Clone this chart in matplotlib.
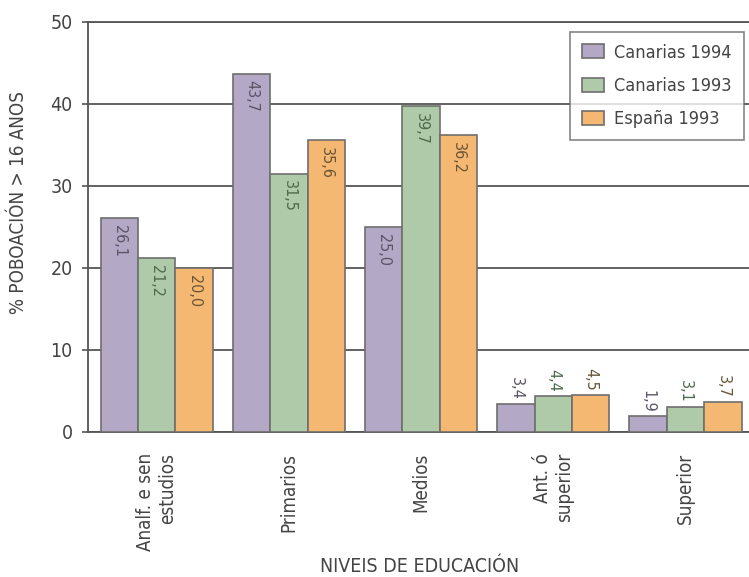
import numpy as np
from matplotlib import pyplot as plt

######## Datos

niveis = ["Analf. e sen\nestudios", "Primarios", "Medios", "Ant. ó\nsuperior", "Superior"]
canarias_1994 = [26.1, 43.7, 25.0, 3.4, 1.9]
canarias_1993 = [21.2, 31.5, 39.7, 4.4, 3.1]
espana_1993 = [20.0, 35.6, 36.2, 4.5, 3.7]
series_nomes = ["Canarias 1994", "Canarias 1993", "España 1993"]
cores = ["#b3a9c6", "#aecaa8", "#f4b872"]
cores_texto = ["#5b5366", "#4c6a4c", "#6a5536"]

######## Fonte estreita

plt.rcParams['font.family'] = ["DejaVu Sans"]
plt.rcParams['font.stretch'] = "condensed"
cinza = "#444444"

######## Grafica

fig = plt.figure(figsize=(7.49, 5.77), dpi=100)
ax = fig.add_axes([0.1175, 0.2513, 0.8825, 0.7106])

x = np.arange(len(niveis))
w = 0.283
valores = [canarias_1994, canarias_1993, espana_1993]

for k in range(3):
    pos = x + (k - 1) * w
    ax.bar(pos, valores[k], width=w, color=cores[k], edgecolor="#6e6e6e",
           linewidth=1.2, label=series_nomes[k], zorder=3)
    for p, v in zip(pos, valores[k]):
        txt = ("%.1f" % v).replace(".", ",")
        if v > 10:
            ax.text(p, v - 0.8, txt, rotation=270, ha="center", va="top",
                    fontsize=11.5, color=cores_texto[k], zorder=4)
        else:
            ax.text(p, v + 0.5, txt, rotation=270, ha="center", va="bottom",
                    fontsize=11.5, color=cores_texto[k], zorder=4)

ax.set_xlim(-0.52, 4.48)
ax.set_ylim(0, 50)
ax.set_yticks([0, 10, 20, 30, 40, 50])
ax.set_yticklabels(["0", "10", "20", "30", "40", "50"], fontsize=14, color=cinza)
ax.set_xticks(x)
ax.set_xticklabels(niveis, rotation=90, fontsize=13.5, color=cinza,
                   multialignment="right", va="top")
ax.tick_params(axis="x", length=0, pad=15)
ax.tick_params(axis="y", length=4, width=1.2, color="#555555", pad=7)

ax.grid(axis="y", color="#555555", linewidth=1.3, zorder=0)
ax.spines["right"].set_visible(False)
for s in ["left", "bottom", "top"]:
    ax.spines[s].set_color("#555555")
    ax.spines[s].set_linewidth(1.3)

ax.set_ylabel("% POBOACIÓN > 16 ANOS", fontsize=13.5, color=cinza)
ax.yaxis.set_label_coords(-0.091, 0.559)
ax.set_xlabel("NIVEIS DE EDUCACIÓN", fontsize=14, color=cinza)
ax.xaxis.set_label_coords(0.502, -0.305)

leg = ax.legend(loc="upper right", bbox_to_anchor=(0.992, 0.976), fontsize=13,
                frameon=True, fancybox=False, edgecolor="#666666",
                handlelength=1.2, handleheight=0.8, labelspacing=0.85,
                borderpad=0.65, handletextpad=0.6, borderaxespad=0)
leg.get_frame().set_linewidth(1.2)
for t in leg.get_texts():
    t.set_color(cinza)

plt.savefig("out.png", dpi=100)
plt.close()
